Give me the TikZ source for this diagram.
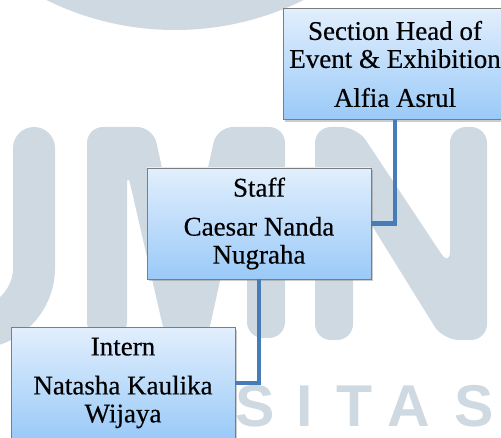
\documentclass[tikz,border=0pt]{standalone}
\usepackage{fontspec}
\setmainfont{Liberation Serif}
\newfontfamily\boxfont{Liberation Serif}[FakeBold=0.4]
\newfontfamily\wmfont{Liberation Sans}
\usetikzlibrary{shadows, positioning}
\definecolor{wmgray}{RGB}{207,217,226}
\definecolor{linkblue}{RGB}{70,125,185}
\definecolor{boxtop}{RGB}{226,239,253}
\definecolor{boxbottom}{RGB}{154,202,248}
\definecolor{boxline}{RGB}{125,125,125}

\begin{document}
\begin{tikzpicture}[x=1pt, y=1pt, node distance=159.5pt]
\tikzstyle{block} = [rectangle, minimum width=224pt, minimum height=111pt, inner sep=2pt,
                    align=center, draw=boxline, line width=0.8pt, top color=boxtop, bottom color=boxbottom,
                    font=\boxfont\fontsize{27}{28}\selectfont,
                    drop shadow={shadow xshift=1.5pt, shadow yshift=-2.5pt, opacity=0.4}]
\tikzstyle{link} = [line width=4.5pt, draw=linkblue]
\tikzstyle{wm} = [fill=wmgray, rounded corners=16pt]
\tikzstyle{wmletter} = [text=wmgray, font=\wmfont\bfseries\fontsize{59}{59}\selectfont, anchor=base, inner sep=0pt]
\useasboundingbox (0,0) rectangle (501,-438);
% watermark in the back
\fill [wmgray] (175,260) circle [radius=290pt];
\draw [wmgray, line width=42pt, line cap=round] (34,-148) -- (34,-268) arc [start angle=0, end angle=-90, radius=60pt];
\fill [wm] (87,-338) -- (87,-127) -- (153,-127) -- (185,-272) -- (217,-127) -- (285,-127) -- (285,-338) -- (247,-338)
  -- (247,-157) -- (207,-340) -- (166,-340) -- (127,-170) -- (127,-338) -- cycle;
\fill [wm] (315,-340) -- (315,-127) -- (357,-127) -- (450,-267) -- (450,-127) -- (487,-127) -- (487,-340) -- (443,-340)
  -- (353,-195) -- (353,-340) -- cycle;
\foreach \ch/\cx [count=\i] in {S/255.5, I/305, T/355, A/408.5, S/474.5}
  \node (wm\i) [wmletter] at (\cx,-427) {\ch};
% chart
\node (head) [block] at (395,-64) {Section Head of\\ Event \& Exhibition\\[11pt] Alfia Asrul};
\node (staff) [block, below of=head, xshift=-136pt] {Staff\\[11pt] Caesar Nanda\\ Nugraha};
\node (intern) [block, below of=staff, xshift=-136pt] {Intern\\[11pt] Natasha Kaulika\\ Wijaya};
\draw [link] (head.south) |- (staff.east);
\draw [link] (staff.south) |- (intern.east);
\end{tikzpicture}
\end{document}
